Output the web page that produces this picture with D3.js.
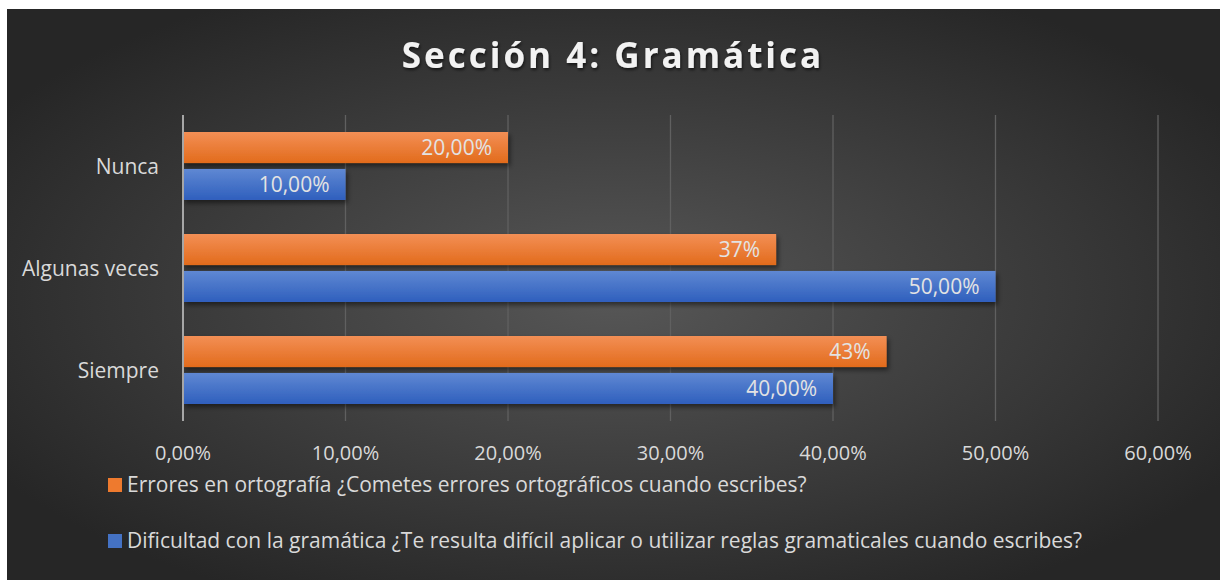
<!DOCTYPE html>
<meta charset="utf-8">
<style>
body { margin: 0; background: #fff; }
svg text { font-family: "Open Sans", sans-serif; }
</style>
<svg width="1220" height="580"></svg>
<script src="https://d3js.org/d3.v7.min.js"></script>
<script>
// data
var categories = ["Nunca", "Algunas veces", "Siempre"];
var seriesNames = [
  "Errores en ortografía ¿Cometes errores ortográficos cuando escribes?",
  "Dificultad con la gramática ¿Te resulta difícil aplicar o utilizar reglas gramaticales cuando escribes?"
];
var errores = [0.20, 0.365, 0.433];
var dificultad = [0.10, 0.50, 0.40];
var erroresLabels = ["20,00%", "37%", "43%"];
var dificultadLabels = ["10,00%", "50,00%", "40,00%"];
var xTicks = [0, 0.1, 0.2, 0.3, 0.4, 0.5, 0.6];

var svg = d3.select("svg");
var defs = svg.append("defs");

var bg = defs.append("radialGradient").attr("id", "bg")
    .attr("cx", "50%").attr("cy", "50%").attr("r", "60%");
bg.append("stop").attr("offset", "0%").attr("stop-color", "#575757");
bg.append("stop").attr("offset", "100%").attr("stop-color", "#262626");

function barGrad(id, top, bottom) {
  var g = defs.append("linearGradient").attr("id", id)
      .attr("x1", 0).attr("y1", 0).attr("x2", 0).attr("y2", 1);
  g.append("stop").attr("offset", "0%").attr("stop-color", top);
  g.append("stop").attr("offset", "100%").attr("stop-color", bottom);
}
barGrad("gOrange", "#f38f55", "#e26b1c");
barGrad("gBlue", "#5f88d3", "#2f5fbd");

var shadow = defs.append("filter").attr("id", "shadow")
    .attr("x", "-5%").attr("y", "-20%").attr("width", "115%").attr("height", "160%");
shadow.append("feDropShadow").attr("dx", 2).attr("dy", 3).attr("stdDeviation", 2.5)
    .attr("flood-color", "#000").attr("flood-opacity", 0.5);

var tshadow = defs.append("filter").attr("id", "tshadow");
tshadow.append("feDropShadow").attr("dx", 1).attr("dy", 2).attr("stdDeviation", 1.5)
    .attr("flood-color", "#000").attr("flood-opacity", 0.6);

svg.append("rect").attr("x", 7).attr("y", 9).attr("width", 1213).attr("height", 571)
    .attr("fill", "url(#bg)");

// title
svg.append("text")
    .attr("x", 613).attr("y", 68)
    .attr("text-anchor", "middle")
    .attr("fill", "#f2f2f2")
    .attr("font-size", 35)
    .attr("font-weight", "bold")
    .attr("letter-spacing", 3)
    .attr("filter", "url(#tshadow)")
    .text("Sección 4: Gramática");

// scales
var x = d3.scaleLinear().domain([0, 0.6]).range([183, 1158]);
var y = d3.scaleBand().domain(categories).range([115, 421]);
var inner = d3.scaleBand().domain([0, 1]).range([17, 85]).paddingInner(0.16);

// gridlines
svg.append("g").selectAll("line")
  .data(xTicks.slice(1))
  .join("line")
    .attr("x1", d => x(d)).attr("x2", d => x(d))
    .attr("y1", 115).attr("y2", 421)
    .attr("stroke", "#606060").attr("stroke-width", 1.3);

// x axis labels
var fmt = d => (d * 100).toFixed(2).replace(".", ",") + "%";
svg.append("g").selectAll("text")
  .data(xTicks)
  .join("text")
    .attr("x", d => x(d)).attr("y", 460)
    .attr("text-anchor", "middle")
    .attr("fill", "#d9d9d9")
    .attr("font-size", 20)
    .text(fmt);

// bars
var series = [
  { vals: errores, labels: erroresLabels, fill: "url(#gOrange)" },
  { vals: dificultad, labels: dificultadLabels, fill: "url(#gBlue)" }
];
series.forEach(function (s, si) {
  var g = svg.append("g");
  g.selectAll("rect")
    .data(categories)
    .join("rect")
      .attr("x", x(0))
      .attr("y", (c) => y(c) + inner(si))
      .attr("width", (c, i) => x(s.vals[i]) - x(0))
      .attr("height", inner.bandwidth())
      .attr("fill", s.fill)
      .attr("filter", "url(#shadow)");
  g.selectAll("text")
    .data(categories)
    .join("text")
      .attr("x", (c, i) => x(s.vals[i]) - 16)
      .attr("y", (c) => y(c) + inner(si) + inner.bandwidth() / 2 + 7.5)
      .attr("text-anchor", "end")
      .attr("fill", "#e3e3e3")
      .attr("font-size", 21)
      .text((c, i) => s.labels[i]);
});

// y axis line
svg.append("line")
    .attr("x1", x(0)).attr("x2", x(0))
    .attr("y1", 115).attr("y2", 421)
    .attr("stroke", "#a6a6a6").attr("stroke-width", 2);

// category labels
svg.append("g").selectAll("text")
  .data(categories)
  .join("text")
    .attr("x", 159)
    .attr("y", d => y(d) + y.bandwidth() / 2 + 7.5)
    .attr("text-anchor", "end")
    .attr("fill", "#d9d9d9")
    .attr("font-size", 21)
    .text(d => d);

// legend
var legColors = ["#ee7a2e", "#4472c4"];
var leg = svg.append("g").selectAll("g")
  .data(seriesNames)
  .join("g")
    .attr("transform", (d, i) => "translate(108," + (478 + i * 56) + ")");
leg.append("rect")
    .attr("width", 14).attr("height", 14)
    .attr("fill", (d, i) => legColors[i]);
leg.append("text")
    .attr("x", 19).attr("y", 14)
    .attr("fill", "#d9d9d9")
    .attr("font-size", 21)
    .text(d => d);
</script>
